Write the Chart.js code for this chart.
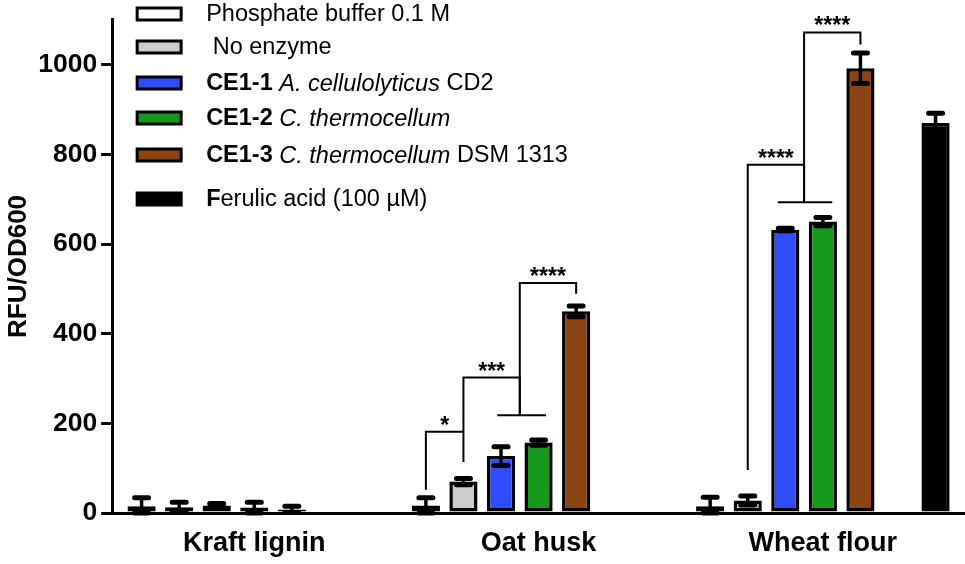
<!DOCTYPE html>
<html>
<head>
<meta charset="utf-8">
<script src="https://cdn.jsdelivr.net/npm/chart.js@4"></script>
<style>
  body { margin: 0; background: #fff; }
</style>
</head>
<body>
<canvas id="myChart" width="965" height="564"></canvas>
<script>
const FONT = "'Liberation Sans', Arial, sans-serif";

const categories = ['Kraft lignin', 'Oat husk', 'Wheat flour'];

// means and errors
const phosphate = [15, 17, 15];
const phosphateErr = [19, 17, 20];
const noEnzyme = [13, 70, 28];
const noEnzymeErr = [11, 7, 10];
const ce11 = [17, 127, 632];
const ce11Err = [4, 21, 3];
const ce12 = [12, 157, 650];
const ce12Err = [12, 6, 9];
const ce13 = [8, 450, 992];
const ce13Err = [7, 12, 34];
const ferulic = [null, null, 870];
const ferulicErr = [null, null, 22];

const yTicks = [0, 200, 400, 600, 800, 1000];

// legend text, split into styled pieces
const legendParts = [
  [['Phosphate buffer 0.1 M', '']],
  [[' No enzyme', '']],
  [['CE1-1 ', 'bold'], ['A. cellulolyticus', 'italic'], [' CD2', '']],
  [['CE1-2 ', 'bold'], ['C. thermocellum', 'italic']],
  [['CE1-3 ', 'bold'], ['C. thermocellum', 'italic'], [' DSM 1313', '']],
  [['F', 'bold'], ['erulic acid (100 µM)', '']]
];

// significance brackets: category, path as [bar slot, value], stars and where they sit
const brackets = [
  { cat: 1, path: [[0, 52], [0, 181], [1, 181]], stars: '*', at: [0.5, 181] },
  { cat: 1, path: [[1, 114], [1, 302], [2.5, 302], [2.5, 218]], stars: '***', at: [1.75, 302] },
  { cat: 1, path: [[1.9, 218], [3.2, 218]] },
  { cat: 1, path: [[2.5, 218], [2.5, 513], [4, 513], [4, 489]], stars: '****', at: [3.25, 513] },
  { cat: 2, path: [[1, 96], [1, 777], [2.5, 777], [2.5, 693]], stars: '****', at: [1.75, 777] },
  { cat: 2, path: [[1.8, 693], [3.25, 693]] },
  { cat: 2, path: [[2.5, 693], [2.5, 1072], [4, 1072], [4, 1045]], stars: '****', at: [3.25, 1072] }
];

const colors = ['#ffffff', '#c9cdcd', '#2f4dff', '#16981a', '#8a4512', '#ffffff', '#000000'];

const data = {
  labels: categories,
  datasets: [
    { label: 'Phosphate buffer 0.1 M', data: phosphate, errors: phosphateErr },
    { label: 'No enzyme', data: noEnzyme, errors: noEnzymeErr },
    { label: 'CE1-1 A. cellulolyticus CD2', data: ce11, errors: ce11Err },
    { label: 'CE1-2 C. thermocellum', data: ce12, errors: ce12Err },
    { label: 'CE1-3 C. thermocellum DSM 1313', data: ce13, errors: ce13Err },
    { label: '', data: [null, null, null] }, // empty slot before ferulic acid
    { label: 'Ferulic acid (100 µM)', data: ferulic, errors: ferulicErr }
  ].map((ds, i) => Object.assign(ds, {
    backgroundColor: colors[i],
    borderColor: '#000',
    borderWidth: 3.5,
    borderSkipped: false,
    barPercentage: 0.75,
    categoryPercentage: 0.925
  }))
};

function slotX(chart, cat, s) {
  const x0 = chart.getDatasetMeta(0).data[cat].x;
  const x1 = chart.getDatasetMeta(1).data[cat].x;
  return x0 + s * (x1 - x0);
}

const errorBars = {
  id: 'errorBars',
  afterDatasetsDraw(chart) {
    const ctx = chart.ctx;
    const y = chart.scales.y;
    ctx.save();
    ctx.strokeStyle = '#000';
    chart.data.datasets.forEach((ds, i) => {
      if (!ds.errors) return;
      chart.getDatasetMeta(i).data.forEach((bar, j) => {
        const v = ds.data[j], e = ds.errors[j];
        if (v == null || e == null) return;
        const top = y.getPixelForValue(v + e);
        const bot = y.getPixelForValue(Math.max(0, v - e));
        ctx.lineWidth = 3.5;
        ctx.beginPath();
        ctx.moveTo(bar.x, top);
        ctx.lineTo(bar.x, bot);
        ctx.stroke();
        ctx.lineWidth = 5;
        ctx.lineCap = 'round';
        ctx.beginPath();
        ctx.moveTo(bar.x - 7, top);
        ctx.lineTo(bar.x + 7, top);
        ctx.moveTo(bar.x - 7, bot);
        ctx.lineTo(bar.x + 7, bot);
        ctx.stroke();
        ctx.lineCap = 'butt';
      });
    });
    ctx.restore();
  }
};

const sigBrackets = {
  id: 'sigBrackets',
  afterDatasetsDraw(chart) {
    const ctx = chart.ctx;
    const y = chart.scales.y;
    ctx.save();
    ctx.strokeStyle = '#000';
    ctx.fillStyle = '#000';
    ctx.lineWidth = 2;
    ctx.font = 'bold 23px ' + FONT;
    ctx.textAlign = 'center';
    ctx.textBaseline = 'alphabetic';
    brackets.forEach(b => {
      ctx.beginPath();
      b.path.forEach((p, k) => {
        const px = slotX(chart, b.cat, p[0]);
        const py = y.getPixelForValue(p[1]);
        if (k === 0) ctx.moveTo(px, py); else ctx.lineTo(px, py);
      });
      ctx.stroke();
      if (b.stars) {
        ctx.fillText(b.stars, slotX(chart, b.cat, b.at[0]), y.getPixelForValue(b.at[1]) + 1);
      }
    });
    ctx.restore();
  }
};

const customLegend = {
  id: 'customLegend',
  afterDraw(chart) {
    const ctx = chart.ctx;
    const left = chart.chartArea.left;
    const rowsY = [14, 47, 83, 118, 155, 199];
    const shown = [0, 1, 2, 3, 4, 6];
    ctx.save();
    ctx.textBaseline = 'middle';
    shown.forEach((di, r) => {
      const yc = rowsY[r];
      ctx.fillStyle = colors[di];
      ctx.fillRect(left + 25, yc - 6, 44, 12);
      ctx.strokeStyle = '#000';
      ctx.lineWidth = 3;
      ctx.strokeRect(left + 25, yc - 6, 44, 12);
      let x = left + 94;
      ctx.fillStyle = '#000';
      legendParts[r].forEach(([t, style]) => {
        ctx.font = (style ? style + ' ' : '') + '23.5px ' + FONT;
        ctx.fillText(t, x, yc + 1);
        x += ctx.measureText(t).width;
      });
    });
    ctx.restore();
  }
};

const config = {
  type: 'bar',
  data: data,
  options: {
    responsive: false,
    animation: false,
    layout: { padding: { top: 17, bottom: -10, right: 0, left: 0 } },
    plugins: {
      legend: { display: false },
      tooltip: { enabled: false }
    },
    scales: {
      x: {
        grid: { display: false, drawTicks: false },
        border: { color: '#000', width: 3 },
        ticks: { color: '#000', padding: 17, font: { family: FONT, size: 27, weight: 'bold', lineHeight: 1 } }
      },
      y: {
        min: 0,
        max: 1100,
        afterBuildTicks: scale => { scale.ticks = yTicks.map(v => ({ value: v })); },
        grid: { drawOnChartArea: false, color: '#000', lineWidth: 3, tickLength: 11 },
        border: { color: '#000', width: 3 },
        ticks: {
          color: '#000',
          padding: 4,
          font: { family: FONT, size: 26.5, weight: 'bold' },
          callback: value => String(value)
        },
        title: {
          display: true,
          text: 'RFU/OD600',
          color: '#000',
          padding: { top: 3, bottom: 0 },
          font: { family: FONT, size: 26, weight: 'bold' }
        }
      }
    }
  },
  plugins: [errorBars, sigBrackets, customLegend]
};

const myChart = new Chart(document.getElementById('myChart').getContext('2d'), config);
</script>
</body>
</html>
